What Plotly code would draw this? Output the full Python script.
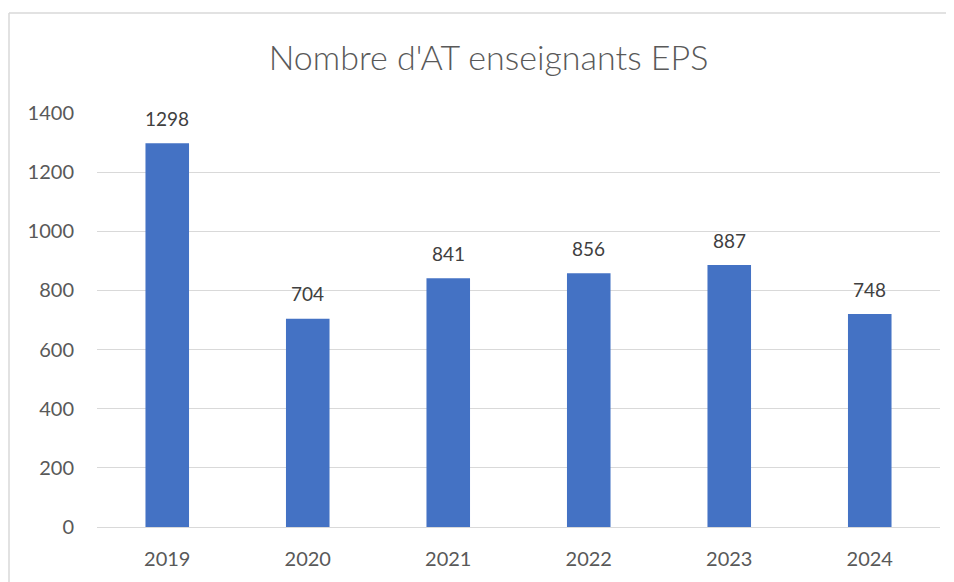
import plotly.graph_objects as go

# values
years = ["2019", "2020", "2021", "2022", "2023", "2024"]
counts = [1298, 704, 841, 858, 886, 720]
labels = ["1298", "704", "841", "856", "887", "748"]
y_ticks = [0, 200, 400, 600, 800, 1000, 1200, 1400]

font = "Lato, Calibri, Carlito, sans-serif"

fig = go.Figure()
fig.add_trace(go.Bar(x=years, y=counts, marker_color="#4472c4",
                     marker_line_width=0, hoverinfo="x+y"))

# data labels above each bar (category index, so "2019" isn't read as a number)
for i, (val, lab) in enumerate(zip(counts, labels)):
    fig.add_annotation(x=i, y=val, text=lab, showarrow=False,
                       yshift=25, font=dict(size=19, color="#404040", family=font))

# page body adds 8px margin, so figure is 946x574
fig.update_layout(
    width=946, height=574,
    margin=dict(l=89, r=14, t=105, b=55),
    paper_bgcolor="white", plot_bgcolor="white",
    bargap=0.69, showlegend=False,
    title=dict(text="Nombre d'AT enseignants EPS", x=0.508, xanchor="center",
               y=0.913, yanchor="middle",
               font=dict(size=34, color="#595959", family=font, weight=300)),
    font=dict(family=font, color="#595959", size=19),
)
fig.update_yaxes(range=[0, 1400], tickvals=y_ticks, showgrid=True,
                 gridcolor="#d9d9d9", gridwidth=1, zeroline=False,
                 showline=False, ticks="", ticklabelstandoff=22,
                 tickfont=dict(size=20, color="#595959"))
fig.update_xaxes(type="category", range=[-0.5, 5.5], showline=True,
                 linecolor="#d9d9d9", linewidth=1, ticks="",
                 ticklabelstandoff=14, tickfont=dict(size=20, color="#595959"))

# chart frame: only the left and top edges show in the reference
frame_x = (1 - 89) / 843
frame_y = (519 - 5) / 414
fig.add_shape(type="line", xref="paper", yref="paper",
              x0=frame_x, x1=frame_x, y0=-0.2, y1=frame_y,
              line=dict(color="#d9d9d9", width=1.5), layer="below")
fig.add_shape(type="line", xref="paper", yref="paper",
              x0=frame_x, x1=1.05, y0=frame_y, y1=frame_y,
              line=dict(color="#d9d9d9", width=1.5), layer="below")

fig.write_html("out.html")
